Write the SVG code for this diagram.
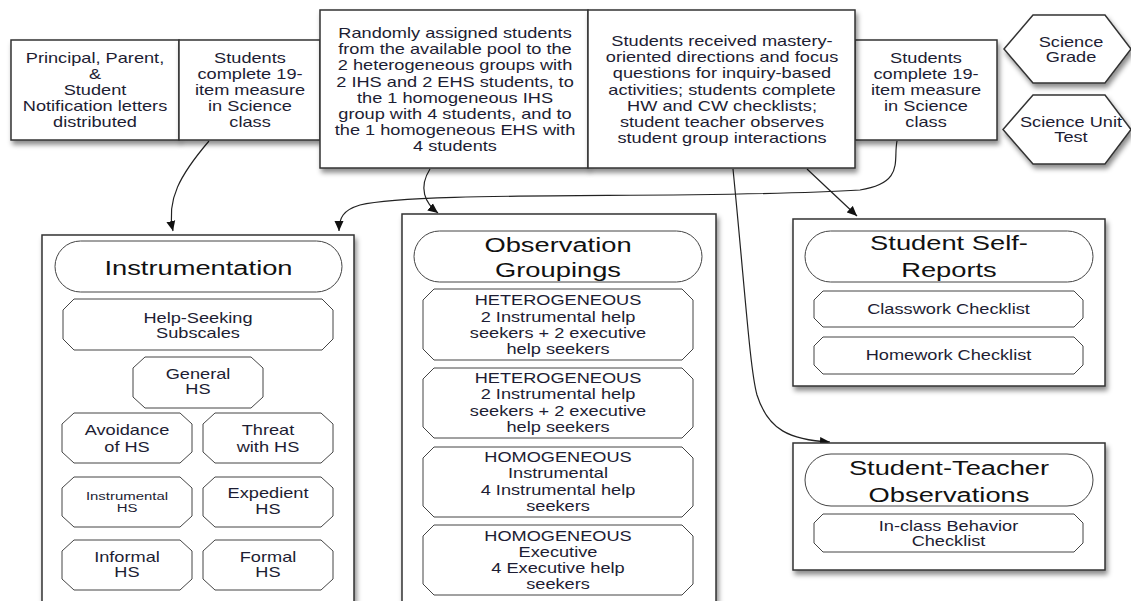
<svg xmlns="http://www.w3.org/2000/svg" width="1131" height="601" viewBox="0 0 1131 601">
<defs>
<filter id="sh" x="-10%" y="-10%" width="125%" height="140%">
<feDropShadow dx="2" dy="4" stdDeviation="2.5" flood-color="#000" flood-opacity="0.45"/>
</filter>
<marker id="ah" viewBox="0 0 10 10" refX="10" refY="5" markerWidth="10" markerHeight="10" markerUnits="userSpaceOnUse" orient="auto">
<path d="M0,0.5 L10,5 L0,9.5 Z" fill="#111"/>
</marker>
<style>
.box{fill:#fff;stroke:#333;stroke-width:1.5}
.in{fill:#fff;stroke:#444;stroke-width:1}
.t{font-family:"Liberation Sans",Arial,sans-serif;font-size:14px;fill:#1d1d33;text-anchor:middle}
.s{font-size:11.5px}
.h{font-size:21px;fill:#111}
.c{fill:none;stroke:#222;stroke-width:1.2}
</style>
</defs>
<rect width="1131" height="601" fill="#fff"/>

<g id="connectors">
<path class="c" d="M209,141 C180,175 166,200 173,231" marker-end="url(#ah)"/>
<path class="c" d="M897,141 C893,160 905,183 860,190 C700,200 420,190 360,205 C343,210 339,218 339,231" marker-end="url(#ah)"/>
<path class="c" d="M430,169 C418,188 425,203 438,213" marker-end="url(#ah)"/>
<path class="c" d="M807,169 L857,216" marker-end="url(#ah)"/>
<path class="c" d="M733,169 C745,290 750,370 757,395 C768,430 790,440 830,442" marker-end="url(#ah)"/>
</g>

<g id="n-notify">
<rect class="box" x="11" y="40" width="168" height="100" filter="url(#sh)"/>
<text class="t" transform="translate(95,0) scale(1.3,1)"><tspan x="0" y="63">Principal, Parent,</tspan><tspan x="0" y="79">&amp;</tspan><tspan x="0" y="95">Student</tspan><tspan x="0" y="111">Notification letters</tspan><tspan x="0" y="127">distributed</tspan></text>
</g>
<g id="n-pre">
<rect class="box" x="179" y="40" width="141" height="100" filter="url(#sh)"/>
<text class="t" transform="translate(250,0) scale(1.3,1)"><tspan x="0" y="63">Students</tspan><tspan x="0" y="79">complete 19-</tspan><tspan x="0" y="95">item measure</tspan><tspan x="0" y="111">in Science</tspan><tspan x="0" y="127">class</tspan></text>
</g>
<g id="n-post">
<rect class="box" x="855" y="40" width="142" height="100" filter="url(#sh)"/>
<text class="t" transform="translate(926,0) scale(1.3,1)"><tspan x="0" y="63">Students</tspan><tspan x="0" y="79">complete 19-</tspan><tspan x="0" y="95">item measure</tspan><tspan x="0" y="111">in Science</tspan><tspan x="0" y="127">class</tspan></text>
</g>
<g id="n-assign">
<rect class="box" x="320" y="10" width="268" height="158" filter="url(#sh)"/>
<text class="t" transform="translate(455,0) scale(1.3,1)"><tspan x="0" y="38">Randomly assigned students</tspan><tspan x="0" y="54.2">from the available pool to the</tspan><tspan x="0" y="70.4">2 heterogeneous  groups with</tspan><tspan x="0" y="86.6">2 IHS and 2 EHS students, to</tspan><tspan x="0" y="102.8">the 1 homogeneous IHS</tspan><tspan x="0" y="119">group with 4 students, and to</tspan><tspan x="0" y="135.2">the 1 homogeneous EHS with</tspan><tspan x="0" y="151.4">4 students</tspan></text>
</g>
<g id="n-mastery">
<rect class="box" x="588" y="10" width="267" height="158" filter="url(#sh)"/>
<text class="t" transform="translate(722,0) scale(1.3,1)"><tspan x="0" y="46">Students received mastery-</tspan><tspan x="0" y="62.2">oriented directions and focus</tspan><tspan x="0" y="78.4">questions for inquiry-based</tspan><tspan x="0" y="94.6">activities; students complete</tspan><tspan x="0" y="110.8">HW and CW checklists;</tspan><tspan x="0" y="127">student teacher observes</tspan><tspan x="0" y="143.2">student group interactions</tspan></text>
</g>
<g id="n-grade">
<polygon class="box" points="1004,49 1033,15 1105,15 1131,49 1105,83 1033,83" filter="url(#sh)"/>
<text class="t" transform="translate(1071,0) scale(1.3,1)"><tspan x="0" y="47">Science</tspan><tspan x="0" y="62">Grade</tspan></text>
</g>
<g id="n-unit">
<polygon class="box" points="1003,129.5 1033,95 1105,95 1131,129.5 1105,164 1033,164" filter="url(#sh)"/>
<text class="t" transform="translate(1071,0) scale(1.3,1)"><tspan x="0" y="127">Science Unit</tspan><tspan x="0" y="142">Test</tspan></text>
</g>

<g id="n-instrumentation">
<rect class="box" x="42" y="235" width="312" height="375" filter="url(#sh)"/>
<rect class="in" x="55" y="241" width="287" height="51" rx="25.5"/>
<text class="t h" transform="translate(198.5,0) scale(1.3,1)"><tspan x="0" y="275.5">Instrumentation</tspan></text>
<polygon class="in" points="74,299 322,299 333,310 333,339 322,350 74,350 63,339 63,310"/>
<text class="t" transform="translate(198,0) scale(1.3,1)"><tspan x="0" y="323">Help-Seeking</tspan><tspan x="0" y="338">Subscales</tspan></text>
<polygon class="in" points="145,357 251,357 263,368 263,397 251,408 145,408 133,397 133,368"/>
<text class="t" transform="translate(198,0) scale(1.3,1)"><tspan x="0" y="379">General</tspan><tspan x="0" y="394">HS</tspan></text>
<polygon class="in" points="74,413 180,413 192,424 192,452 180,463 74,463 62,452 62,424"/>
<text class="t" transform="translate(127,0) scale(1.3,1)"><tspan x="0" y="435">Avoidance</tspan><tspan x="0" y="452">of HS</tspan></text>
<polygon class="in" points="215,413 321,413 333,424 333,452 321,463 215,463 203,452 203,424"/>
<text class="t" transform="translate(268,0) scale(1.3,1)"><tspan x="0" y="435">Threat</tspan><tspan x="0" y="452">with HS</tspan></text>
<polygon class="in" points="74,477 180,477 192,488 192,516 180,527 74,527 62,516 62,488"/>
<text class="t s" transform="translate(127,0) scale(1.3,1)"><tspan x="0" y="500">Instrumental</tspan><tspan x="0" y="512.5">HS</tspan></text>
<polygon class="in" points="215,477 321,477 333,488 333,516 321,527 215,527 203,516 203,488"/>
<text class="t" transform="translate(268,0) scale(1.3,1)"><tspan x="0" y="498">Expedient</tspan><tspan x="0" y="514">HS</tspan></text>
<polygon class="in" points="74,540 180,540 192,551 192,579 180,590 74,590 62,579 62,551"/>
<text class="t" transform="translate(127,0) scale(1.3,1)"><tspan x="0" y="562">Informal</tspan><tspan x="0" y="577">HS</tspan></text>
<polygon class="in" points="215,540 321,540 333,551 333,579 321,590 215,590 203,579 203,551"/>
<text class="t" transform="translate(268,0) scale(1.3,1)"><tspan x="0" y="562">Formal</tspan><tspan x="0" y="577">HS</tspan></text>
</g>

<g id="n-groupings">
<rect class="box" x="402" y="214" width="314" height="396" filter="url(#sh)"/>
<rect class="in" x="414" y="231" width="288" height="51" rx="25.5"/>
<text class="t h" transform="translate(558,0) scale(1.3,1)"><tspan x="0" y="252.5">Observation</tspan><tspan x="0" y="277.5">Groupings</tspan></text>
<polygon class="in" points="434,289 682,289 693,300 693,349 682,360 434,360 423,349 423,300"/>
<text class="t" transform="translate(558,0) scale(1.3,1)"><tspan x="0" y="305.5">HETEROGENEOUS</tspan><tspan x="0" y="321.7">2 Instrumental help</tspan><tspan x="0" y="337.9">seekers + 2 executive</tspan><tspan x="0" y="354">help seekers</tspan></text>
<polygon class="in" points="434,368 682,368 693,379 693,427 682,438 434,438 423,427 423,379"/>
<text class="t" transform="translate(558,0) scale(1.3,1)"><tspan x="0" y="383">HETEROGENEOUS</tspan><tspan x="0" y="399.5">2 Instrumental help</tspan><tspan x="0" y="415.7">seekers + 2 executive</tspan><tspan x="0" y="432">help seekers</tspan></text>
<polygon class="in" points="434,447 682,447 693,458 693,506 682,517 434,517 423,506 423,458"/>
<text class="t" transform="translate(558,0) scale(1.3,1)"><tspan x="0" y="462">HOMOGENEOUS</tspan><tspan x="0" y="478.5">Instrumental</tspan><tspan x="0" y="494.7">4 Instrumental help</tspan><tspan x="0" y="511">seekers</tspan></text>
<polygon class="in" points="434,525 682,525 693,536 693,584 682,595 434,595 423,584 423,536"/>
<text class="t" transform="translate(558,0) scale(1.3,1)"><tspan x="0" y="541">HOMOGENEOUS</tspan><tspan x="0" y="557">Executive</tspan><tspan x="0" y="573">4 Executive help</tspan><tspan x="0" y="589">seekers</tspan></text>
</g>

<g id="n-selfreports">
<rect class="box" x="793" y="219" width="312" height="167" filter="url(#sh)"/>
<rect class="in" x="805" y="231" width="288" height="51" rx="25.5"/>
<text class="t h" transform="translate(949,0) scale(1.3,1)"><tspan x="0" y="250.5">Student Self-</tspan><tspan x="0" y="277.5">Reports</tspan></text>
<polygon class="in" points="823,291 1074,291 1083,300 1083,318 1074,327 823,327 814,318 814,300"/>
<text class="t" transform="translate(948.5,0) scale(1.3,1)"><tspan x="0" y="314">Classwork Checklist</tspan></text>
<polygon class="in" points="823,337 1074,337 1083,346 1083,365 1074,374 823,374 814,365 814,346"/>
<text class="t" transform="translate(948.5,0) scale(1.3,1)"><tspan x="0" y="360">Homework Checklist</tspan></text>
</g>

<g id="n-teacherobs">
<rect class="box" x="793" y="443" width="312" height="127" filter="url(#sh)"/>
<rect class="in" x="805" y="454" width="288" height="52" rx="26"/>
<text class="t h" transform="translate(949,0) scale(1.3,1)"><tspan x="0" y="475.5">Student-Teacher</tspan><tspan x="0" y="502.5">Observations</tspan></text>
<polygon class="in" points="823,514 1074,514 1083,523 1083,543 1074,552 823,552 814,543 814,523"/>
<text class="t" transform="translate(948.5,0) scale(1.3,1)"><tspan x="0" y="531">In-class Behavior</tspan><tspan x="0" y="546">Checklist</tspan></text>
</g>
</svg>
